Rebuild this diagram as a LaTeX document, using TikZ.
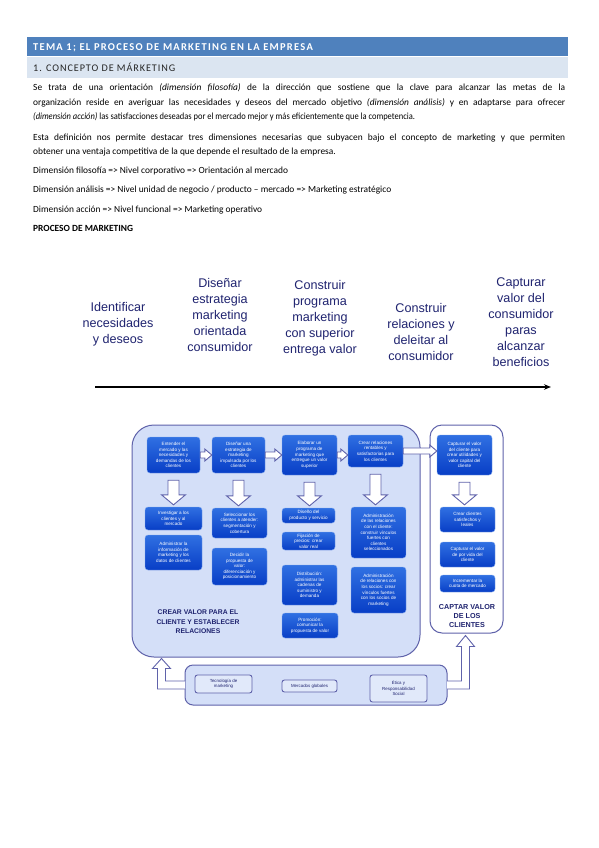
\documentclass[tikz,border=0pt]{standalone}
\usepackage{fontspec}
\setmainfont{Carlito}
\newfontfamily\arialf{Liberation Sans}
\usetikzlibrary{calc,arrows.meta}
\definecolor{hdr}{RGB}{79,129,189}
\definecolor{hdrlight}{RGB}{219,229,241}
\definecolor{navy}{RGB}{32,36,112}
\definecolor{panelfill}{RGB}{212,223,248}
\definecolor{panelline}{RGB}{95,98,170}
\definecolor{boxtop}{RGB}{48,112,226}
\definecolor{boxbot}{RGB}{8,62,198}
\tikzset{
  bluebox/.style={rounded corners=3pt, top color=boxtop, bottom color=boxbot, draw=boxtop!60!white, line width=0.4pt,
    text=white, font=\arialf\fontsize{4.6}{5.6}\selectfont, align=center, inner sep=0pt},
  panel/.style={draw=panelline, fill=panelfill, line width=1pt, rounded corners=22pt, inner sep=0pt},
  panelw/.style={draw=panelline, fill=white, line width=1pt, rounded corners=12pt, inner sep=0pt},
  basepanel/.style={draw=panelline, fill=panelfill, line width=1pt, rounded corners=8pt, inner sep=0pt},
  smallbox/.style={draw=panelline, fill=panelfill!70!white, line width=0.9pt, rounded corners=2.5pt, inner sep=0pt,
    text=navy, font=\arialf\fontsize{4.4}{5.4}\selectfont, align=center},
  hollow/.style={draw=panelline, fill=white, line width=0.9pt, line join=miter},
  stage/.style={font=\arialf\fontsize{12.6}{16}\selectfont, text=navy, align=center, inner sep=0pt},
  plabel/.style={font=\arialf\bfseries\fontsize{6.8}{9.6}\selectfont, text=navy, align=center, inner sep=0pt},
  textline/.style={anchor=base west, inner sep=0pt, font=\fontsize{9.4}{11}\selectfont},
}
\newcommand\bbox[6]{\node[bluebox, minimum width={(#3-#2)*1pt}, minimum height={(#5-#4)*1pt}] (#1) at ({(#2+#3)/2},{(#4+#5)/2}) {#6};}
\newcommand\rblock[2]{\draw[hollow] let \p1=(#1.east), \p2=(#2.west) in
  (\x1,\y1+3pt) -- (\x2-7pt,\y1+3pt) -- (\x2-7pt,\y1+6pt) -- (\x2,\y1) -- (\x2-7pt,\y1-6pt) -- (\x2-7pt,\y1-3pt) -- (\x1,\y1-3pt) -- cycle;}
\newcommand\dblock[2]{\draw[hollow] let \p1=(#1.south), \p2=(#2.north) in
  (\x1-5.5pt,\y1-7pt) -- (\x1-5.5pt,\y2+12pt) -- (\x1-12pt,\y2+12pt) -- (\x1,\y2+2pt) -- (\x1+12pt,\y2+12pt) -- (\x1+5.5pt,\y2+12pt) -- (\x1+5.5pt,\y1-7pt) -- cycle;}
\begin{document}
\begin{tikzpicture}[x=1pt,y=-1pt]
\useasboundingbox (0,0) rectangle (599,848);
\fill[white] (0,0) rectangle (599,848);

% header bars
\node[fill=hdr, minimum width=541pt, minimum height=19pt, anchor=north west, inner sep=0pt] (bar1) at (27,37) {};
\node[fill=hdrlight, minimum width=541pt, minimum height=21pt, anchor=north west, inner sep=0pt] (bar2) at (27,57) {};
\node[textline, text=white, font=\bfseries\fontsize{10.5}{12}\selectfont\addfontfeature{LetterSpace=12}] (t1) at (33,51) {TEMA 1; EL PROCESO DE MARKETING EN LA EMPRESA};
\node[textline, text=black!85, font=\fontsize{10.2}{12}\selectfont\addfontfeature{LetterSpace=9}] (t2) at (33,71.5) {1. CONCEPTO DE MÁRKETING};

% body text
\node[textline] (p1) at (33,91) {\makebox[532pt][s]{Se trata de una orientación \textit{(dimensión filosofía)} de la dirección que sostiene que la clave para alcanzar las metas de la}};
\node[textline] (p2) at (33,105.5) {\makebox[532pt][s]{organización reside en averiguar las necesidades y deseos del mercado objetivo \textit{(dimensión análisis)} y en adaptarse para ofrecer}};
\node[textline] (p3) at (33,120) {\scalebox{0.9}[1]{\textit{(dimensión acción)} las satisfacciones deseadas por el mercado mejor y más eficientemente que la competencia.}};
\node[textline] (p4) at (33,140) {\makebox[532pt][s]{Esta definición nos permite destacar tres dimensiones necesarias que subyacen bajo el concepto de marketing y que permiten}};
\node[textline] (p5) at (33,154.5) {obtener una ventaja competitiva de la que depende el resultado de la empresa.};
\node[textline] (d1) at (33,173) {Dimensión filosofía => Nivel corporativo => Orientación al mercado};
\node[textline] (d2) at (33,192.5) {Dimensión análisis => Nivel unidad de negocio / producto – mercado => Marketing estratégico};
\node[textline] (d3) at (33,212) {Dimensión acción => Nivel funcional => Marketing operativo};
\node[textline, font=\bfseries\fontsize{9.4}{11}\selectfont] (d4) at (33,231.5) {PROCESO DE MARKETING};

% stages
\node[stage] (s1) at (118,324) {Identificar\\necesidades\\y deseos};
\node[stage] (s2) at (220,315) {Diseñar\\estrategia\\marketing\\orientada\\consumidor};
\node[stage] (s3) at (320,318.5) {Construir\\programa\\marketing\\con superior\\entrega valor};
\node[stage] (s4) at (421,331.5) {Construir\\relaciones y\\deleitar al\\consumidor};
\node[stage] (s5) at (521,322) {Capturar\\valor del\\consumidor\\paras\\alcanzar\\beneficios};
\coordinate (ta) at (95,387);
\coordinate (tb) at (551,387);
\draw[-{Stealth[length=7pt,width=5.5pt]}, line width=1.3pt] (ta) -- (tb);

% panels
\node[panel, minimum width=288pt, minimum height=232pt] (crear) at (276,541) {};
\node[panelw, minimum width=73pt, minimum height=208pt] (captar) at (466.5,529) {};
\node[basepanel, minimum width=262pt, minimum height=40pt] (base) at (316,685) {};

% L-shaped hollow arrows
\draw[hollow] let \p1=(base.west), \p2=(crear.south) in
  (\x1+0.5pt,\y1+4pt) -- (\x1-19pt,\y1+4pt) -- (\x1-19pt,\y2-11pt) -- (\x1-14pt,\y2-11pt) -- (\x1-23pt,\y2-1pt)
  -- (\x1-32pt,\y2-11pt) -- (\x1-27pt,\y2-11pt) -- (\x1-27pt,\y1-4pt) -- (\x1+0.5pt,\y1-4pt);
\draw[hollow] let \p1=(base.east), \p2=(captar.south) in
  (\x1-0.5pt,\y1+4pt) -- (\x1+14pt,\y1+4pt) -- (\x1+14pt,\y2-13pt) -- (\x1+9pt,\y2-13pt) -- (\x1+18pt,\y2-2pt)
  -- (\x1+27pt,\y2-13pt) -- (\x1+22pt,\y2-13pt) -- (\x1+22pt,\y1-4pt) -- (\x1-0.5pt,\y1-4pt);

% base boxes
\node[smallbox, minimum width=57pt, minimum height=18pt] (tec) at (223.5,684) {Tecnología de\\marketing};
\node[smallbox, minimum width=55pt, minimum height=12pt] (merc) at (309.5,686) {Mercados globales};
\node[smallbox, minimum width=57pt, minimum height=27pt] (etica) at (398.5,688.5) {Ética y\\Responsabilidad\\Social};

% blue boxes
\bbox{A}{147}{200}{437}{473}{Entender el\\mercado y las\\necesidades y\\demandas de los\\clientes}
\bbox{B}{212}{265}{437}{473}{Diseñar una\\estrategia de\\marketing\\impulsada por los\\clientes}
\bbox{C}{282}{337}{435}{475}{Elaborar un\\programa de\\marketing que\\entregue un valor\\superior}
\bbox{D}{348}{403}{435}{467}{Crear relaciones\\rentables y\\satisfactorias para\\los clientes}
\bbox{E}{437}{492}{435}{475}{Capturar el valor\\del cliente para\\crear utilidades y\\valor capital del\\cliente}
\bbox{A2}{145}{202}{507}{530}{Investigar a los\\clientes y al\\mercado}
\bbox{A3}{145}{202}{535}{570}{Administrar la\\información de\\marketing y los\\datos de clientes}
\bbox{B2}{212}{267}{508}{538}{Seleccionar los\\clientes a atender:\\segmentación y\\cobertura}
\bbox{B3}{212}{267}{548}{585}{Decidir la\\propuesta de\\valor:\\diferenciación y\\posicionamiento}
\bbox{C2}{282}{335}{508}{523}{Diseño del\\producto y servicio}
\bbox{C3}{282}{335}{532}{550}{Fijación de\\precios: crear\\valor real}
\bbox{C4}{282}{337}{565}{605}{Distribución:\\administrar las\\cadenas de\\suministro y\\demanda}
\bbox{C5}{282}{338}{613}{638}{Promoción:\\comunicar la\\propuesta de valor}
\bbox{D2}{351}{406}{507}{558}{Administración\\de las relaciones\\con el cliente:\\construir vínculos\\fuertes con\\clientes\\seleccionados}
\bbox{D3}{351}{406}{567}{613}{Administración\\de relaciones con\\los socios: crear\\vínculos fuertes\\con los socios de\\marketing}
\bbox{E2}{440}{495}{507}{532}{Crear clientes\\satisfechos y\\leales}
\bbox{E3}{440}{495}{542}{567}{Capturar el valor\\de por vida del\\cliente}
\bbox{E4}{440}{495}{575}{592}{Incrementar la\\cuota de mercado}

% block arrows
\rblock{A}{B}
\rblock{B}{C}
\rblock{C}{D}
\rblock{D}{E}
\dblock{A}{A2}
\dblock{B}{B2}
\dblock{C}{C2}
\dblock{D}{D2}
\dblock{E}{E2}

% panel labels
\node[plabel] (lcrear) at (198,622) {CREAR VALOR PARA EL\\CLIENTE Y ESTABLECER\\RELACIONES};
\node[plabel, font=\arialf\bfseries\fontsize{7.2}{9}\selectfont] (lcaptar) at (467,616) {CAPTAR VALOR\\DE LOS\\CLIENTES};
\end{tikzpicture}
\end{document}
